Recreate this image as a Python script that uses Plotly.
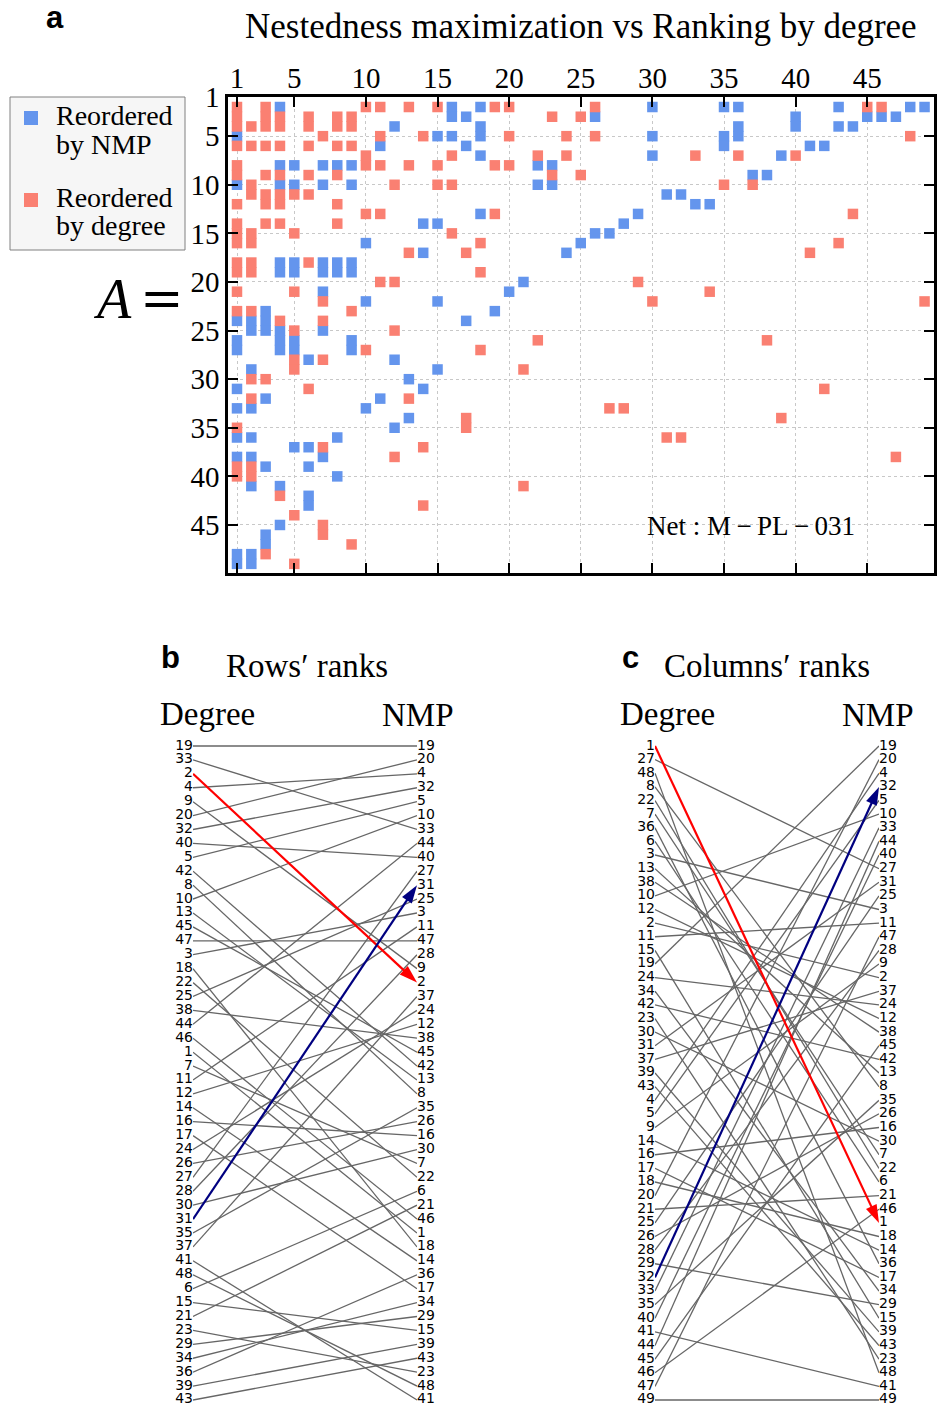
import plotly.graph_objects as go

W, H = 941, 1416
SERIF = "Liberation Serif"
SANS = "DejaVu Sans"
BOLD = "Liberation Sans"
NMP_BLUE = "#6495ED"
DEG_RED = "#FA8072"
GREY = "#666666"

# ---------------- panel a: filled cells of the reordered matrix ----------------
# matrix reordered by the nestedness maximisation (NMP)
nmp_col = [
    1, 1, 1, 1, 1, 1, 1, 1, 1, 1, 1,
    2, 2, 2, 2, 2, 2, 2, 2, 2,
    3, 3, 3, 3, 3, 3, 3,
    4, 4, 4, 4, 4, 4, 4, 4, 4, 4,
    5, 5, 5, 5, 5, 5, 5,
    6, 6, 6, 6, 6,
    7, 7, 7, 7, 7, 7, 7,
    8, 8, 8, 8, 8,
    9, 9, 9, 9, 9, 9,
    10, 10, 10,
    11, 11,
    12, 12, 12,
    13, 13,
    14, 14, 14,
    15, 15, 15, 15,
    16, 16, 16,
    17, 17, 17,
    18, 18, 18, 18, 18,
    19, 20, 21, 22, 22, 23, 23, 24, 25, 26, 26, 27, 28, 29,
    30, 30, 30, 31, 32, 33, 34, 35, 35, 35, 36, 36, 36, 37, 38, 39, 40, 40,
    41, 42, 43, 43, 44, 45, 46, 47, 48, 49,
]
nmp_row = [
    4, 9, 23, 25, 26, 30, 32, 35, 37, 47, 48,
    23, 24, 28, 32, 35, 37, 40, 47, 48,
    22, 23, 24, 31, 38, 45, 46,
    1, 7, 9, 17, 18, 24, 25, 26, 40, 44,
    7, 9, 17, 18, 25, 26, 36,
    27, 36, 38, 41, 42,
    7, 9, 17, 18, 20, 24, 37,
    7, 17, 18, 35, 39,
    7, 9, 17, 18, 25, 26,
    15, 21, 32,
    5, 31,
    3, 27, 34,
    29, 33,
    13, 16, 30,
    4, 13, 21, 28,
    1, 2, 4,
    2, 5, 23,
    1, 3, 4, 6, 12,
    22, 20, 19, 7, 9, 7, 9, 16, 15, 2, 14, 14, 13, 12,
    1, 4, 6, 10, 10, 11, 11, 1, 4, 5, 1, 3, 4, 8, 8, 6, 2, 3,
    5, 5, 1, 3, 3, 2, 2, 2, 1, 1,
]

# matrix reordered by decreasing degree
deg_col = [
    1, 1, 1, 1, 1, 1, 1, 1, 1, 1, 1, 1, 1, 1, 1, 1, 1,
    2, 2, 2, 2, 2, 2, 2, 2, 2, 2, 2, 2, 2,
    3, 3, 3, 3, 3, 3, 3, 3, 3, 3,
    4, 4, 4, 4, 4, 4, 4, 4, 4,
    5, 5, 5, 5, 5, 5, 5, 5,
    6, 6, 6, 6, 6, 6, 6,
    7, 7, 7, 7, 7, 7, 7,
    8, 8, 8, 8, 8, 8,
    9, 9, 9, 9, 9,
    10, 10, 10, 10, 10,
    11, 11, 11, 11, 11,
    12, 12, 12, 12,
    13, 13, 13, 13,
    14, 14, 14, 15, 15, 15, 16, 16, 16, 17, 17, 17,
    18, 18, 18, 19, 19, 19, 20, 20, 20,
    21, 21, 22, 22, 23, 23, 24, 24, 25, 25, 26, 26,
    27, 28, 29, 30, 31, 32, 33, 34, 35, 36, 37, 38,
    39, 40, 41, 42, 43, 44, 45, 46, 47, 48, 49,
]
deg_row = [
    1, 2, 3, 5, 7, 8, 11, 13, 14, 15, 17, 18, 20, 22, 34, 38, 39,
    3, 5, 9, 10, 14, 15, 17, 18, 22, 29, 31, 38, 39,
    1, 2, 3, 5, 8, 10, 11, 13, 29, 47,
    2, 3, 5, 8, 10, 11, 13, 23, 41,
    10, 14, 20, 24, 27, 28, 43, 48,
    2, 3, 5, 8, 10, 17, 30,
    4, 21, 23, 27, 36, 44, 45,
    2, 3, 5, 8, 11, 13,
    2, 3, 5, 22, 46,
    1, 6, 7, 12, 26,
    1, 4, 7, 12, 19,
    9, 19, 24, 37,
    1, 7, 16, 31,
    4, 36, 42, 1, 7, 9, 6, 9, 14, 16, 33, 34,
    15, 18, 26, 1, 7, 12, 1, 4, 7,
    28, 40, 6, 25, 2, 8, 4, 6, 2, 8, 1, 4,
    32, 32, 19, 21, 35, 35, 6, 20, 9, 6, 9, 25,
    33, 6, 16, 30, 15, 12, 1, 1, 37, 4, 21,
]

x_ticks = [1, 5, 10, 15, 20, 25, 30, 35, 40, 45]
y_tick_labels = ["1", "5", "10", "15", "20", "25", "30", "35", "40", "45"]

# ---------------- panels b, c: node ranks ----------------
row_rank_degree = [19, 33, 2, 4, 9, 20, 32, 40, 5, 42, 8, 10, 13, 45, 47, 3,
                   18, 22, 25, 38, 44, 46, 1, 7, 11, 12, 14, 16, 17, 24, 26,
                   27, 28, 30, 31, 35, 37, 41, 48, 6, 15, 21, 23, 29, 34, 36,
                   39, 43]
row_rank_nmp = [19, 20, 4, 32, 5, 10, 33, 44, 40, 27, 31, 25, 3, 11, 47, 28,
                9, 2, 37, 24, 12, 38, 45, 42, 13, 8, 35, 26, 16, 30, 7, 22,
                6, 21, 46, 1, 18, 14, 36, 17, 34, 29, 15, 39, 43, 23, 48, 41]
col_rank_degree = [1, 27, 48, 8, 22, 7, 36, 6, 3, 13, 38, 10, 12, 2, 11, 15,
                   19, 24, 34, 42, 23, 30, 31, 37, 39, 43, 4, 5, 9, 14, 16, 17,
                   18, 20, 21, 25, 26, 28, 29, 32, 33, 35, 40, 41, 44, 45, 46,
                   47, 49]
col_rank_nmp = [19, 20, 4, 32, 5, 10, 33, 44, 40, 27, 31, 25, 3, 11, 47, 28,
                9, 2, 37, 24, 12, 38, 45, 42, 13, 8, 35, 26, 16, 30, 7, 22,
                6, 21, 46, 1, 18, 14, 36, 17, 34, 29, 15, 39, 43, 23, 48, 41,
                49]
row_highlight = {2: "#ff0000", 31: "#000080"}
col_highlight = {1: "#ff0000", 32: "#000080"}


def px(x):
    return x / W


def py(y):
    return 1 - y / H


fig = go.Figure()

# ---- panel a ----
fig.add_trace(go.Scatter(
    x=nmp_col, y=nmp_row, mode="markers", xaxis="x", yaxis="y",
    marker=dict(symbol="square", size=10.5, color=NMP_BLUE, line=dict(width=0)),
    name="Reordered by NMP", showlegend=False, hoverinfo="skip"))
fig.add_trace(go.Scatter(
    x=deg_col, y=deg_row, mode="markers", xaxis="x", yaxis="y",
    marker=dict(symbol="square", size=10.5, color=DEG_RED, line=dict(width=0)),
    name="Reordered by degree", showlegend=False, hoverinfo="skip"))


# ---- panels b and c ----
def add_rank_panel(left, right, highlight, xa, ya):
    xs, ys = [], []
    for i, lab in enumerate(left):
        if lab in highlight:
            continue
        j = right.index(lab)
        xs += [0, 1, None]
        ys += [i, j, None]
    fig.add_trace(go.Scatter(
        x=xs, y=ys, mode="lines", xaxis=xa, yaxis=ya,
        line=dict(color=GREY, width=1.3), showlegend=False, hoverinfo="skip"))
    for lab, color in highlight.items():
        fig.add_trace(go.Scatter(
            x=[0, 1], y=[left.index(lab), right.index(lab)],
            mode="lines+markers", xaxis=xa, yaxis=ya, cliponaxis=False,
            line=dict(color=color, width=2.2),
            marker=dict(symbol="arrow", size=19, angleref="previous", color=color),
            showlegend=False, hoverinfo="skip"))
    fig.add_trace(go.Scatter(
        x=[0] * len(left), y=list(range(len(left))), text=[str(v) for v in left],
        mode="text", textposition="middle left", xaxis=xa, yaxis=ya, cliponaxis=False,
        textfont=dict(family=SANS, size=14, color="black"),
        showlegend=False, hoverinfo="skip"))
    fig.add_trace(go.Scatter(
        x=[1] * len(right), y=list(range(len(right))), text=[str(v) for v in right],
        mode="text", textposition="middle right", xaxis=xa, yaxis=ya, cliponaxis=False,
        textfont=dict(family=SANS, size=14, color="black"),
        showlegend=False, hoverinfo="skip"))


add_rank_panel(row_rank_degree, row_rank_nmp, row_highlight, "x2", "y2")
add_rank_panel(col_rank_degree, col_rank_nmp, col_highlight, "x3", "y3")

frame = dict(ticks="inside", ticklen=10, tickwidth=2, tickcolor="black",
             showline=True, linewidth=2.5, linecolor="black", mirror="ticks",
             showgrid=True, gridcolor="#c8c8c8", griddash="dot", gridwidth=1,
             zeroline=False, automargin=False,
             tickfont=dict(family=SERIF, size=29, color="black"))

step_b = 654 / (len(row_rank_degree) - 1)
step_c = 654 / (len(col_rank_degree) - 1)

fig.update_layout(
    width=W, height=H, margin=dict(l=0, r=0, t=0, b=0, autoexpand=False),
    paper_bgcolor="white", plot_bgcolor="white", showlegend=False,
    xaxis=dict(domain=[px(228), px(934)], range=[0.372, 49.66], side="top",
               tickvals=x_ticks, anchor="y", ticklabelstandoff=-5, **frame),
    yaxis=dict(domain=[py(573), py(97)], range=[48.94, -0.03],
               tickvals=[int(t) - 1 for t in y_tick_labels], ticktext=y_tick_labels,
               anchor="x", **frame),
    xaxis2=dict(domain=[px(193), px(417)], range=[0, 1], visible=False,
                automargin=False, anchor="y2"),
    yaxis2=dict(domain=[py(1400 + step_b / 2), py(746 - step_b / 2)],
                range=[len(row_rank_degree) - 0.5, -0.5], visible=False,
                automargin=False, anchor="x2"),
    xaxis3=dict(domain=[px(655), px(879)], range=[0, 1], visible=False,
                automargin=False, anchor="y3"),
    yaxis3=dict(domain=[py(1400 + step_c / 2), py(746 - step_c / 2)],
                range=[len(col_rank_degree) - 0.5, -0.5], visible=False,
                automargin=False, anchor="x3"),
)


def note(text, x, y, size, family=SERIF, xanchor="center"):
    return dict(text=text, x=px(x), y=py(y), xref="paper", yref="paper",
                showarrow=False, xanchor=xanchor, yanchor="middle",
                font=dict(family=family, size=size, color="black"))


annotations = [
    note("<b>a</b>", 55, 17, 31, BOLD),
    note("Nestedness maximization vs Ranking by degree", 581, 27, 35),
    note("<i>A</i>", 112, 299, 56),
    note("=", 162, 298, 52, "DejaVu Serif"),
    note("Net : M\u2009\u2212\u2009PL\u2009\u2212\u2009031", 857, 526, 27, xanchor="right"),
    note("Reordered", 54, 116, 28, xanchor="left"),
    note("by NMP", 54, 145, 28, xanchor="left"),
    note("Reordered", 54, 197, 28, xanchor="left"),
    note("by degree", 54, 226, 28, xanchor="left"),
    note("<b>b</b>", 170, 657, 31, BOLD),
    note("Rows\u2032 ranks", 307, 666, 33),
    note("Degree", 207, 714, 33),
    note("NMP", 418, 715, 33),
    note("<b>c</b>", 630, 657, 31, BOLD),
    note("Columns\u2032 ranks", 767, 666, 33),
    note("Degree", 667, 714, 33),
    note("NMP", 878, 715, 33),
]

shapes = [
    dict(type="rect", xref="paper", yref="paper", x0=px(10), x1=px(185),
         y0=py(250), y1=py(97), fillcolor="#f6f6f6", line=dict(color="#808080", width=1)),
    dict(type="rect", xref="paper", yref="paper", x0=px(24), x1=px(38),
         y0=py(125), y1=py(111), fillcolor=NMP_BLUE, line=dict(width=0)),
    dict(type="rect", xref="paper", yref="paper", x0=px(24), x1=px(38),
         y0=py(207), y1=py(193), fillcolor=DEG_RED, line=dict(width=0)),
]

fig.update_layout(annotations=annotations, shapes=shapes)
fig.write_html("out.html")
